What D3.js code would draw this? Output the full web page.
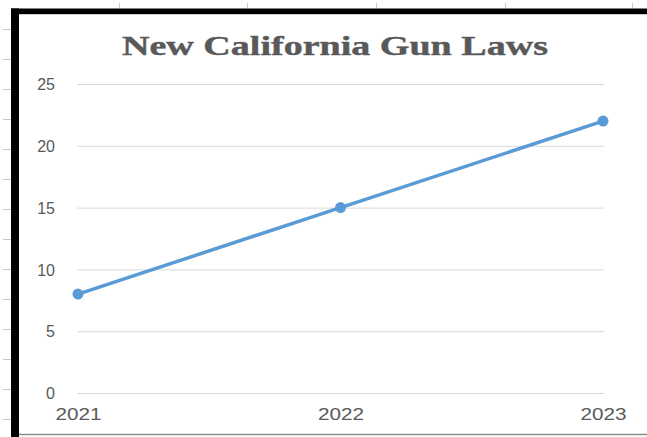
<!DOCTYPE html>
<html><head><meta charset="utf-8">
<script src="https://cdn.jsdelivr.net/npm/d3@7"></script>
<style>
html,body{margin:0;padding:0;background:#fff;}
svg{display:block;}
</style></head>
<body>
<script>
const title = "New California Gun Laws";
const years = ["2021", "2022", "2023"];
const values = [8, 15, 22];
const yTicks = [0, 5, 10, 15, 20, 25];

const W = 647, H = 437;
const svg = d3.select("body").append("svg").attr("width", W).attr("height", H);

// outer frame artifacts (screenshot edges)
const leftTicks = [29, 59, 89, 119, 149, 179, 209, 239, 269, 299, 329, 359, 389, 419];
svg.selectAll(".lt").data(leftTicks).join("line")
  .attr("x1", 3).attr("x2", 11).attr("y1", d => d + 0.5).attr("y2", d => d + 0.5)
  .attr("stroke", "#c8c8c8").attr("stroke-width", 1);
const topTicks = [119, 247, 376, 505, 632];
svg.selectAll(".tt").data(topTicks).join("line")
  .attr("x1", d => d + 0.5).attr("x2", d => d + 0.5).attr("y1", 3).attr("y2", 8.5)
  .attr("stroke", "#c8c8c8").attr("stroke-width", 1);
svg.append("line").attr("x1", 19).attr("x2", W).attr("y1", 434.5).attr("y2", 434.5)
  .attr("stroke", "#8c8c8c").attr("stroke-width", 1.5);
svg.append("rect").attr("x", 11).attr("y", 8.5).attr("width", W - 11).attr("height", 5.7)
  .attr("fill", "#000");
svg.append("rect").attr("x", 11).attr("y", 8.5).attr("width", 8).attr("height", H - 8.5)
  .attr("fill", "#000");

const x = d3.scalePoint().domain(years).range([78, 603]);
const y = d3.scaleLinear().domain([0, 25]).range([393, 84]);

// gridlines
svg.append("g").attr("transform", "translate(77,0)")
  .call(d3.axisLeft(y).tickValues(yTicks).tickSize(-527).tickFormat(""))
  .call(g => g.select(".domain").remove())
  .call(g => g.selectAll("line").attr("stroke", "#d9d9d9").attr("stroke-width", 1));

// y labels
svg.append("g").attr("transform", "translate(55,0)")
  .call(d3.axisLeft(y).tickValues(yTicks).tickSize(0).tickPadding(0))
  .call(g => g.select(".domain").remove())
  .call(g => g.selectAll("text")
    .attr("font-family", "Liberation Sans, Arial, sans-serif")
    .attr("font-size", 16).attr("fill", "#595959")
    .attr("dy", "0.35em"));

// x labels
svg.append("g").attr("transform", "translate(0,409)")
  .call(d3.axisBottom(x).tickSize(0).tickPadding(0))
  .call(g => g.select(".domain").remove())
  .call(g => g.selectAll("text")
    .attr("font-family", "Liberation Sans, Arial, sans-serif")
    .attr("font-size", 16).attr("fill", "#595959")
    .attr("dy", "0.71em")
    .attr("textLength", 46).attr("lengthAdjust", "spacingAndGlyphs"));

// line
const line = d3.line().x((d, i) => x(years[i])).y(d => y(d));
svg.append("path").datum(values).attr("d", line)
  .attr("fill", "none").attr("stroke", "#5B9BD5").attr("stroke-width", 3.5)
  .attr("stroke-linecap", "round");
svg.selectAll(".pt").data(values).join("circle")
  .attr("cx", (d, i) => x(years[i])).attr("cy", d => y(d)).attr("r", 5.5)
  .attr("fill", "#5B9BD5");

// title
svg.append("text").attr("x", 335).attr("y", 55).attr("text-anchor", "middle")
  .attr("font-family", "Liberation Serif, Times New Roman, serif")
  .attr("font-weight", "bold").attr("font-size", 27).attr("fill", "#595959")
  .attr("stroke", "#595959").attr("stroke-width", 0.4)
  .attr("textLength", 426).attr("lengthAdjust", "spacingAndGlyphs")
  .text(title);
</script>
</body></html>
